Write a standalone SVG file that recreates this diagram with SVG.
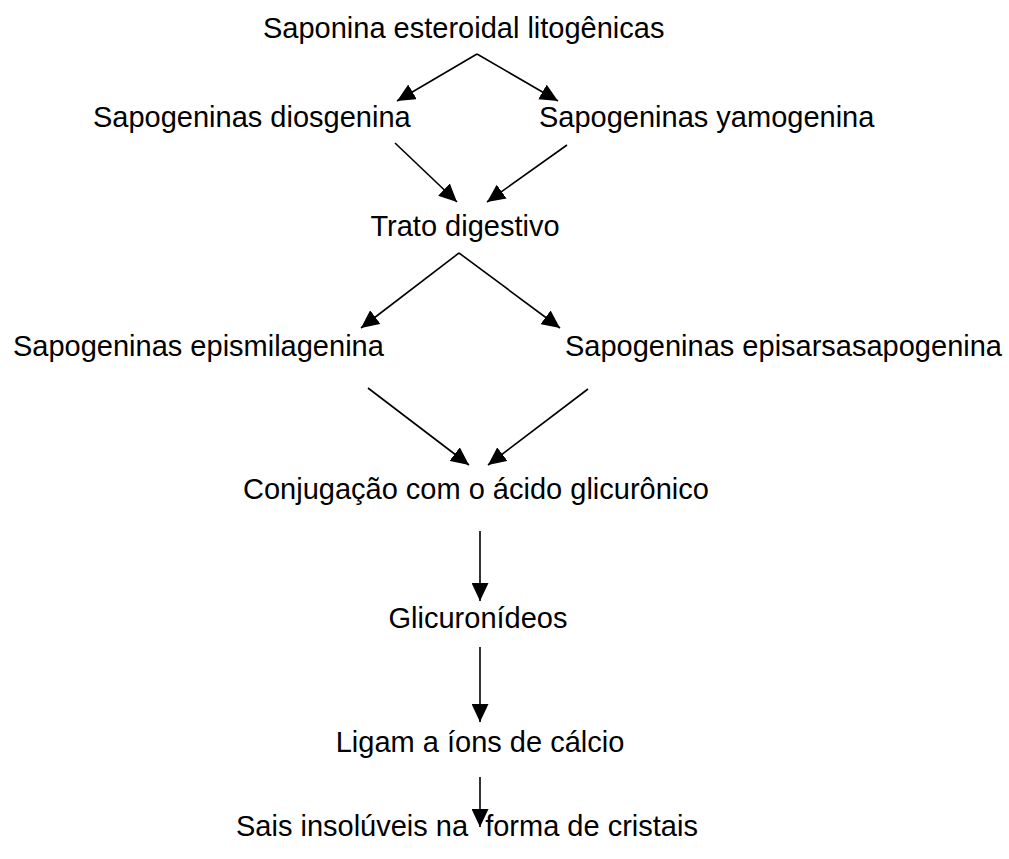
<svg xmlns="http://www.w3.org/2000/svg" width="1009" height="859" viewBox="0 0 1009 859">
<style>
text{font-family:"Liberation Sans",Arial,sans-serif;font-size:29px;fill:#000}
.c line{stroke:#000;stroke-width:1.6;marker-end:url(#ah)}
</style>
<defs>
<marker id="ah" markerUnits="userSpaceOnUse" markerWidth="20" markerHeight="17" refX="18" refY="8.5" orient="auto" viewBox="0 0 20 17">
<path d="M0,0 L18,8.5 L0,17 Z" fill="#000"/>
</marker>
</defs>
<rect width="1009" height="859" fill="#fff"/>
<g id="n1"><text x="263" y="38">Saponina esteroidal litogênicas</text></g>
<g id="n2"><text x="93" y="127">Sapogeninas diosgenina</text></g>
<g id="n3"><text x="539" y="127">Sapogeninas yamogenina</text></g>
<g id="n4"><text x="465" y="236" text-anchor="middle">Trato digestivo</text></g>
<g id="n5"><text x="13" y="356">Sapogeninas epismilagenina</text></g>
<g id="n6"><text x="565" y="356">Sapogeninas episarsasapogenina</text></g>
<g id="n7"><text x="243" y="499">Conjugação com o ácido glicurônico</text></g>
<g id="n8"><text x="478" y="628" text-anchor="middle">Glicuronídeos</text></g>
<g id="n9"><text x="480" y="752" text-anchor="middle">Ligam a íons de cálcio</text></g>
<g id="n10"><text x="236" y="836">Sais insolúveis na <tspan dx="9">forma de cristais</tspan></text></g>
<g id="connectors" class="c">
<line x1="477" y1="54" x2="397" y2="101"/>
<line x1="477" y1="54" x2="558" y2="101"/>
<line x1="395" y1="143" x2="457" y2="202"/>
<line x1="567" y1="145" x2="487" y2="202"/>
<line x1="459" y1="253" x2="361" y2="328"/>
<line x1="459" y1="253" x2="560" y2="328"/>
<line x1="368" y1="388" x2="469" y2="465"/>
<line x1="588" y1="389" x2="488" y2="465"/>
<line x1="480" y1="531" x2="480" y2="601"/>
<line x1="480" y1="647" x2="480" y2="722"/>
<line x1="480" y1="777" x2="480" y2="827"/>
</g>
</svg>
